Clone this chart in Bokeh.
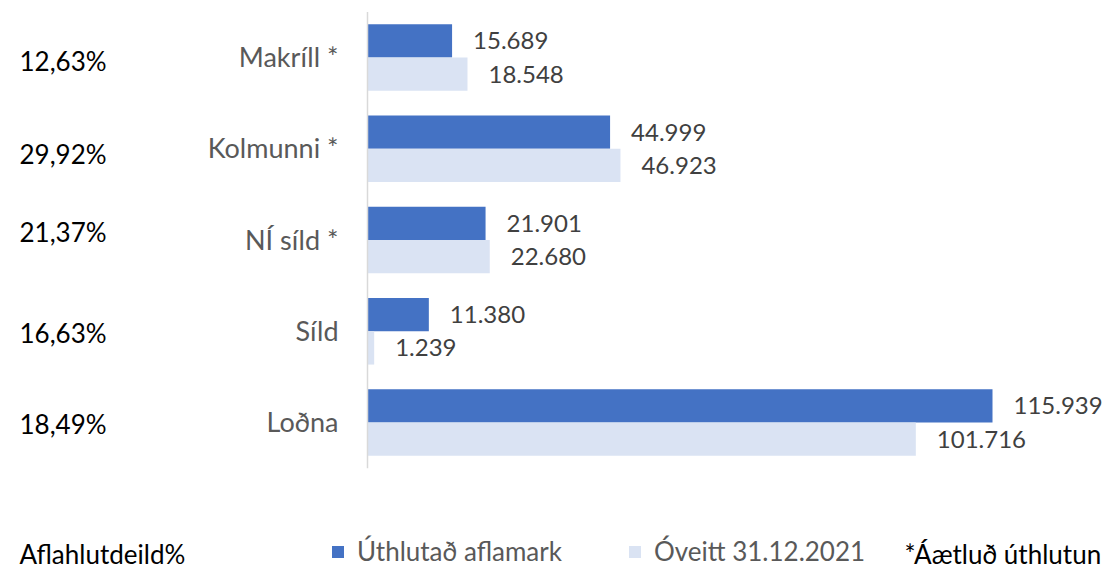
from bokeh.plotting import figure
from bokeh.models import ColumnDataSource, Range1d, Label, Legend, LegendItem
from bokeh.core.properties import value
from bokeh.transform import dodge
from bokeh.embed import file_html
from bokeh.resources import INLINE

# ---- data (top to bottom) ----
categories = ["Makríll *", "Kolmunni *", "NÍ síld *", "Síld", "Loðna"]
uthlutad = [15689, 44999, 21901, 11380, 115939]
oveitt = [18548, 46923, 22680, 1239, 101716]
hlutdeild = [12.63, 29.92, 21.37, 16.63, 18.49]

series_names = ["Úthlutað aflamark", "Óveitt 31.12.2021"]
footnote = "*Áætluð úthlutun"
left_title = "Aflahlutdeild%"

# ---- styles / layout (pixels) ----
W, H = 1104, 568
AXIS_PX = 367            # screen x of the value axis (0)
MAX_PX = 992             # screen x where the largest bar ends
TOP_PX = 57              # screen y of the first category centre
STEP_PX = 91.25          # distance between category centres
FONT = value("Lato")
DARK = "#4472C4"
LIGHT = "#DAE3F3"
BH = 0.365
pct_nudge = [3, 5, -8, 2, 1]   # fine vertical placement of the share labels (px)


def fmt_int(v):
    return f"{v:,}".replace(",", ".")


def fmt_pct(v):
    return f"{v:.2f}".replace(".", ",") + "%"


src = ColumnDataSource(dict(
    cat=categories,
    pos=list(range(len(categories))),
    zero=[0] * len(categories),
    a=uthlutad,
    b=oveitt,
    a_txt=[fmt_int(v) for v in uthlutad],
    b_txt=[fmt_int(v) for v in oveitt],
    pct=[fmt_pct(v) for v in hlutdeild],
    nudge=pct_nudge,
))

scale = (MAX_PX - AXIS_PX) / max(uthlutad + oveitt)
x_range = Range1d(-AXIS_PX / scale, (W - AXIS_PX) / scale)
y_range = Range1d((H - TOP_PX) / STEP_PX, -TOP_PX / STEP_PX)

p = figure(width=W, height=H, x_range=x_range, y_range=y_range,
           output_backend="svg", toolbar_location=None,
           min_border_left=0, min_border_right=0,
           min_border_top=0, min_border_bottom=0)
p.axis.visible = False
p.grid.visible = False
p.outline_line_color = None
p.background_fill_color = "white"
p.border_fill_color = "white"

r_a = p.hbar(y=dodge("pos", -BH / 2), right="a", left="zero", height=BH,
             source=src, fill_color=DARK, line_color=None)
r_b = p.hbar(y=dodge("pos", BH / 2), right="b", left="zero", height=BH,
             source=src, fill_color=LIGHT, line_color=None)

# value axis line
p.segment(x0=0, x1=0, y0=-0.5, y1=len(categories) - 0.5,
          line_color="#D9D9D9", line_width=1.5)

# category labels
p.text(x="zero", y="pos", text="cat", source=src, x_offset=-29, y_offset=-1,
       text_align="right", text_baseline="middle", text_font=FONT,
       text_font_size="27px", text_color="#595959")

# share labels
p.text(x="zero", y="pos", text="pct", source=src, x_offset=-348, y_offset="nudge",
       text_align="left", text_baseline="middle", text_font=FONT,
       text_font_size="26px", text_color="#000000")

# value labels
p.text(x="a", y=dodge("pos", -BH / 2), text="a_txt", source=src, x_offset=21,
       text_align="left", text_baseline="middle", text_font=FONT,
       text_font_size="24px", text_color="#404040")
p.text(x="b", y=dodge("pos", BH / 2), text="b_txt", source=src, x_offset=21,
       text_align="left", text_baseline="middle", text_font=FONT,
       text_font_size="24px", text_color="#404040")

# legend (two single-item legends, placed in screen px)
leg_common = dict(orientation="horizontal", glyph_width=15, glyph_height=15,
                  label_standoff=12, padding=0, margin=0, border_line_color=None,
                  background_fill_alpha=0, label_text_font="Lato",
                  label_text_font_size="26px", label_text_color="#595959")
p.add_layout(Legend(items=[LegendItem(label=series_names[0], renderers=[r_a])],
                    location=(330, 1), **leg_common))
p.add_layout(Legend(items=[LegendItem(label=series_names[1], renderers=[r_b])],
                    location=(627, 1), **leg_common))

p.add_layout(Label(x=19, y=15, x_units="screen", y_units="screen",
                   text=left_title, text_font="Lato", text_font_size="26px",
                   text_baseline="middle", text_color="#000000"))
p.add_layout(Label(x=904, y=15, x_units="screen", y_units="screen",
                   text=footnote, text_font="Lato", text_font_size="26px",
                   text_baseline="middle", text_color="#000000"))

open("out.html", "w").write(file_html(p, INLINE))
